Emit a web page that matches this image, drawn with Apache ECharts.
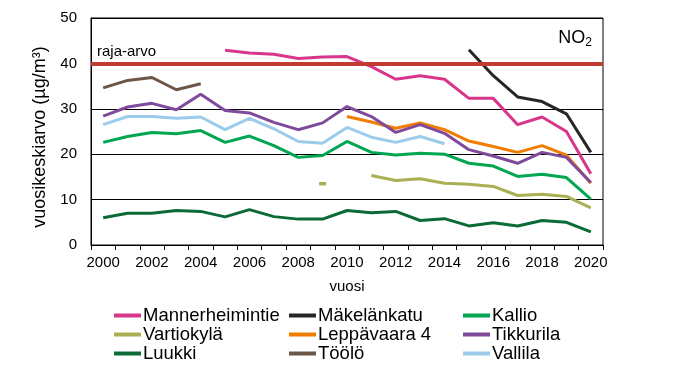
<!DOCTYPE html>
<html><head><meta charset="utf-8">
<script src="https://cdn.jsdelivr.net/npm/echarts@6/dist/echarts.min.js"></script>
<style>html,body{margin:0;padding:0;background:#fff}#c{width:673px;height:373px}</style>
</head><body><div id="c"></div>
<script>
const years = ['2000','2001','2002','2003','2004','2005','2006','2007','2008','2009','2010','2011','2012','2013','2014','2015','2016','2017','2018','2019','2020'];
const yTicks = [0,10,20,30,40,50];
const limitValue = 40;
const mannerheimintie = [null,null,null,null,null,42.9,42.3,42.0,41.1,41.4,41.5,39.3,36.5,37.3,36.5,32.3,32.3,26.5,28.2,25.0,15.7];
const makelankatu = [null,null,null,null,null,null,null,null,null,null,null,null,null,null,null,43.0,37.3,32.6,31.6,28.9,20.4];
const kallio = [22.6,23.9,24.8,24.5,25.2,22.6,24.0,21.9,19.3,19.7,22.8,20.4,19.8,20.2,20.0,18.0,17.4,15.1,15.6,14.85,10.1];
const vartiokyla = [null,null,null,null,null,null,null,null,null,13.5,null,15.3,14.2,14.6,13.6,13.4,12.9,10.9,11.2,10.7,8.2];
const leppavaara = [null,null,null,null,null,null,null,null,null,null,28.3,27.1,25.7,26.9,25.4,22.9,21.7,20.4,21.9,19.8,13.6];
const tikkurila = [28.4,30.4,31.2,29.8,33.2,29.6,29.1,27.0,25.4,26.9,30.5,28.3,24.8,26.5,24.6,21.0,19.6,18.0,20.4,19.3,13.75];
const luukki = [6.0,7.0,7.0,7.6,7.4,6.2,7.8,6.25,5.7,5.7,7.6,7.1,7.4,5.4,5.8,4.2,4.9,4.2,5.4,5.0,2.9];
const toolo = [34.6,36.25,36.9,34.2,35.5,null,null,null,null,null,null,null,null,null,null,null,null,null,null,null,null];
const vallila = [26.5,28.3,28.3,27.9,28.2,25.4,27.9,25.6,22.8,22.4,25.9,23.75,22.6,23.9,22.3,null,null,null,null,null,null];

const FONT = '"Liberation Sans", Arial, sans-serif';
const chart = echarts.init(document.getElementById('c'));

function mk(name, data, color) {
  return {
    name, type: 'line', data, connectNulls: false,
    symbol: 'none', showSymbol: true,
    lineStyle: { color, width: 3 }, itemStyle: { color },
    emphasis: { disabled: true }, animation: false, z: 3
  };
}
// isolated points need a visible mark
function isolated(arr) {
  return arr.map((v, i) => {
    if (v == null) return null;
    const prev = i > 0 ? arr[i-1] : null, next = i < arr.length-1 ? arr[i+1] : null;
    if (prev == null && next == null) return { value: v, symbol: 'rect', symbolSize: [7, 3.5] };
    return v;
  });
}

const series = [
  mk('Mannerheimintie', mannerheimintie, '#D9368B'),
  mk('Mäkelänkatu', makelankatu, '#262626'),
  mk('Kallio', kallio, '#00A651'),
  mk('Vartiokylä', isolated(vartiokyla), '#A9B054'),
  mk('Leppävaara 4', leppavaara, '#F07D00'),
  mk('Tikkurila', tikkurila, '#7F4A9A'),
  mk('Luukki', luukki, '#0B6B36'),
  mk('Töölö', toolo, '#6B5648'),
  mk('Vallila', vallila, '#9DCBEC')
];
series[0].markLine = {
  silent: true, symbol: 'none', animation: false,
  lineStyle: { color: '#C23B30', width: 4, type: 'solid' },
  label: { show: true, position: 'insideStartTop', formatter: 'raja-arvo', color: '#000', fontSize: 15, fontFamily: FONT, distance: [6, 4] },
  data: [{ yAxis: limitValue }]
};

const legendBase = {
  orient: 'vertical', icon: 'rect', itemWidth: 27, itemHeight: 4, itemGap: 0,
  textStyle: { fontSize: 18.5, fontFamily: FONT, color: '#000', lineHeight: 19, padding: [0,0,0,-3] },
  top: 301, selectedMode: false
};

chart.setOption({
  animation: false,
  grid: { left: 91, right: 70, top: 18, bottom: 128, show: true, borderColor: '#000', borderWidth: 1, backgroundColor: 'transparent' },
  legend: [
    Object.assign({}, legendBase, { left: 109, data: ['Mannerheimintie', 'Vartiokylä', 'Luukki'] }),
    Object.assign({}, legendBase, { left: 284, data: ['Mäkelänkatu', 'Leppävaara 4', 'Töölö'] }),
    Object.assign({}, legendBase, { left: 458, data: ['Kallio', 'Tikkurila', 'Vallila'] })
  ],
  xAxis: {
    type: 'category', data: years, boundaryGap: true,
    name: 'vuosi', nameLocation: 'middle', nameGap: 34,
    nameTextStyle: { fontSize: 15, fontFamily: FONT, color: '#000' },
    axisLine: { lineStyle: { color: '#000', width: 1 } },
    axisTick: { show: true, interval: 0, length: 5, lineStyle: { color: '#000' } },
    axisLabel: { interval: 1, fontSize: 15, fontFamily: FONT, color: '#000', margin: 10 },
    splitLine: { show: false }
  },
  yAxis: {
    type: 'value', min: yTicks[0], max: yTicks[yTicks.length-1], interval: 10,
    axisLine: { show: true, lineStyle: { color: '#000', width: 1 } },
    axisTick: { show: false },
    axisLabel: { fontSize: 15, fontFamily: FONT, color: '#000', margin: 14 },
    splitLine: { show: true, lineStyle: { color: '#000', width: 1 } }
  },
  graphic: [{
    type: 'text', right: 81, top: 29, z: 10,
    style: {
      text: 'NO{s|2}', fontSize: 18, fontFamily: FONT, fill: '#000',
      rich: { s: { fontSize: 12, fontFamily: FONT, fill: '#000', verticalAlign: 'bottom', padding: [9, 0, 0, 0] } }
    }
  }, {
    type: 'text', x: 40, y: 137, rotation: Math.PI / 2, z: 10,
    style: {
      text: 'vuosikeskiarvo (µg/m³)', fontSize: 18, fontFamily: FONT, fill: '#000',
      align: 'center', verticalAlign: 'middle'
    }
  }],
  series
});
</script></body></html>
